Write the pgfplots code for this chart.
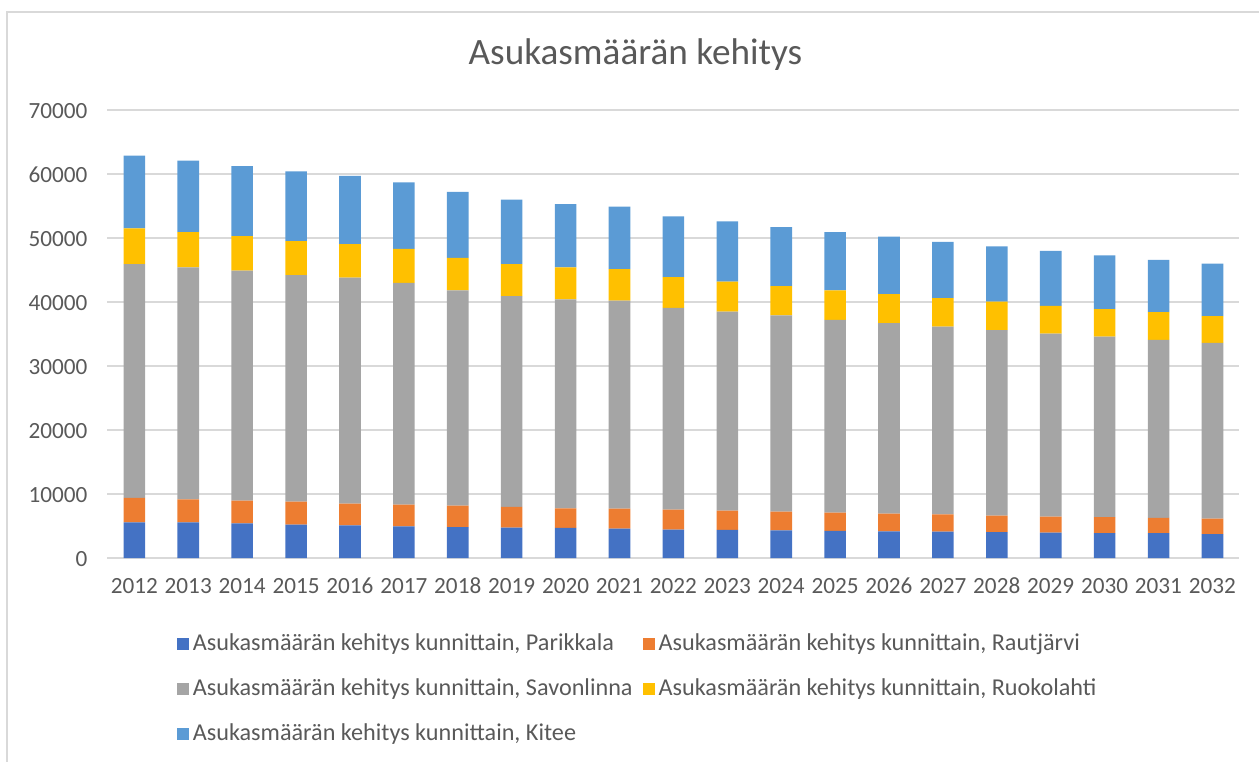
\documentclass[border=0pt]{standalone}
\usepackage{pgfplots}
\usepackage{pgfplotstable}
\pgfplotsset{compat=1.18}
\usepackage{fontspec}
\setmainfont{Carlito}

\definecolor{parik}{HTML}{4472C4}
\definecolor{rautj}{HTML}{ED7D31}
\definecolor{savon}{HTML}{A5A5A5}
\definecolor{ruoko}{HTML}{FFC000}
\definecolor{kitee}{HTML}{5B9BD5}
\definecolor{txt}{HTML}{595959}
\definecolor{gridc}{HTML}{D9D9D9}

% year, Parikkala, Rautjarvi, Savonlinna, Ruokolahti, Kitee
\pgfplotstableread{
year P    R    S     Ru   K
2012 5570 3830 36500 5600 11360
2013 5550 3620 36230 5500 11200
2014 5400 3550 35950 5400 10950
2015 5200 3600 35400 5300 10900
2016 5100 3400 35300 5250 10650
2017 4950 3410 34640 5300 10400
2018 4840 3360 33600 5100 10300
2019 4730 3240 32930 5000 10100
2020 4700 3060 32640 5000 9900
2021 4600 3100 32500 4950 9750
2022 4450 3100 31550 4800 9500
2023 4400 3000 31100 4700 9400
2024 4300 2930 30670 4600 9200
2025 4250 2850 30100 4600 9100
2026 4150 2800 29750 4550 8950
2027 4120 2680 29350 4450 8800
2028 4050 2590 28960 4450 8650
2029 3980 2500 28570 4350 8600
2030 3870 2500 28230 4300 8400
2031 3870 2400 27830 4300 8200
2032 3750 2400 27450 4200 8200
}\asukkaat

\begin{document}
\begin{tikzpicture}
\useasboundingbox (-53.7pt,-101.5pt) rectangle (575.8pt,279pt);
\draw[gridc, line width=1pt] (-50.2pt,-130pt) rectangle (620pt,273pt);
\node[text=txt, font=\fontsize{18.6}{22}\selectfont] at (264pt,251.5pt) {Asukasmäärän kehitys};
\begin{axis}[
    scale only axis,
    width=566pt, height=224pt,
    ybar stacked,
    bar width=10.8pt,
    xmin=2011.5, xmax=2032.5,
    ymin=0, ymax=70000,
    xtick={2012,...,2032},
    ytick={0,10000,...,70000},
    scaled y ticks=false,
    /pgf/number format/1000 sep={},
    /pgf/number format/assume math mode=true,
    ymajorgrids=true,
    grid style={gridc, line width=0.9pt},
    axis line style={draw=none},
    major tick length=0pt,
    ticklabel style={font=\fontsize{11.6}{13.5}\selectfont, text=txt,
        text height=8pt, text depth=0pt},
    yticklabel style={xshift=-6.5pt},
    xticklabel style={yshift=-6pt},
    legend columns=2,
    legend cell align=left,
    legend style={draw=none, fill=none, inner sep=0pt,
        at={(0.061,-0.16)}, anchor=north west,
        font=\fontsize{12.1}{14}\selectfont, text=txt,
        row sep=8.6pt,
        /tikz/every odd column/.append style={xshift=3.5pt},
        /tikz/every even column/.append style={column sep=3pt}},
    legend image code/.code={\fill[#1] (0pt,-3pt) rectangle (6pt,3pt);},
]
\addplot[fill=parik, draw=none] table[x=year, y=P] {\asukkaat};
\addlegendentry{Asukasmäärän kehitys kunnittain, Parikkala}
\addplot[fill=rautj, draw=none] table[x=year, y=R] {\asukkaat};
\addlegendentry{Asukasmäärän kehitys kunnittain, Rautjärvi}
\addplot[fill=savon, draw=none] table[x=year, y=S] {\asukkaat};
\addlegendentry{Asukasmäärän kehitys kunnittain, Savonlinna}
\addplot[fill=ruoko, draw=none] table[x=year, y=Ru] {\asukkaat};
\addlegendentry{Asukasmäärän kehitys kunnittain, Ruokolahti}
\addplot[fill=kitee, draw=none] table[x=year, y=K] {\asukkaat};
\addlegendentry{Asukasmäärän kehitys kunnittain, Kitee}
\end{axis}
\end{tikzpicture}
\end{document}
